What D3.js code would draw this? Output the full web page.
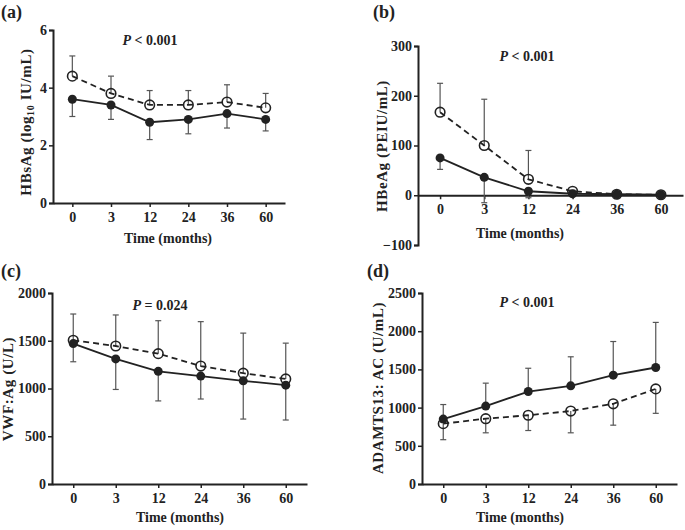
<!DOCTYPE html>
<html><head><meta charset="utf-8">
<script src="https://cdn.jsdelivr.net/npm/d3@7"></script>
<style>body{margin:0;background:#fff}svg{display:block}text{font-family:"Liberation Serif","Times New Roman",serif;font-weight:bold;fill:#222}</style>
</head><body>
<script>
const months = ["0","3","12","24","36","60"];

// (a) HBsAg
const aOpen = [4.4, 3.8, 3.4, 3.4, 3.5, 3.3];
const aOpenErr = [5.1, 4.4, 3.9, 3.9, 4.1, 3.8];
const aFilled = [3.6, 3.4, 2.8, 2.9, 3.1, 2.9];
const aFilledErr = [3.0, 2.9, 2.2, 2.4, 2.6, 2.5];
const aTicks = [0, 2, 4, 6];

// (b) HBeAg
const bOpen = [167, 100, 32, 8, 2, 1];
const bOpenErr = [225, 193, 90, 10, 3, 2];
const bFilled = [75, 36, 8, 3, 2, 1];
const bFilledErr = [52, -15, -5, 1, 1, 0];
const bTicks = [-100, 0, 100, 200, 300];

// (c) VWF:Ag
const cOpen = [1505, 1445, 1365, 1235, 1160, 1100];
const cOpenErr = [1780, 1770, 1710, 1700, 1580, 1475];
const cFilled = [1470, 1310, 1180, 1130, 1080, 1035];
const cFilledErr = [1280, 990, 870, 890, 680, 670];
const cTicks = [0, 500, 1000, 1500, 2000];

// (d) ADAMTS13:AC
const dOpen = [790, 855, 900, 955, 1050, 1245];
const dOpenErr = [580, 670, 700, 670, 770, 925];
const dFilled = [850, 1020, 1210, 1285, 1425, 1525];
const dFilledErr = [1040, 1320, 1515, 1665, 1865, 2115];
const dTicks = [0, 500, 1000, 1500, 2000, 2500];

const svg = d3.select("body").append("svg").attr("width", 685).attr("height", 530);

function panel(o) {
  const g = svg.append("g");
  const x = d3.scalePoint().domain(months).range(o.xr).padding(0.5);
  const y = d3.scaleLinear().domain(o.yd).range(o.yr);
  const x0 = y(0);
  // y axis
  const ya = g.append("g").attr("transform", `translate(${o.xr[0]},0)`)
    .call(d3.axisLeft(y).tickValues(o.ticks).tickSize(4).tickPadding(2).tickFormat(d3.format("d")));
  ya.select(".domain").attr("stroke", "#222").attr("stroke-width", 2);
  ya.selectAll(".tick line").attr("stroke", "#222").attr("stroke-width", 1.5);
  ya.selectAll("text").attr("font-size", 14).attr("font-family", null).attr("fill", "#222");
  // x axis
  const xa = g.append("g").attr("transform", `translate(0,${x0})`)
    .call(d3.axisBottom(x).tickSize(4).tickSizeOuter(0).tickPadding(o.xpad || 5));
  xa.select(".domain").attr("stroke", "#222").attr("stroke-width", 2);
  xa.selectAll(".tick line").attr("stroke", "#222").attr("stroke-width", 1.5);
  xa.selectAll("text").attr("font-size", 14).attr("font-family", null).attr("fill", "#222");
  // x title
  g.append("text").attr("x", o.xtx).attr("y", o.xty).attr("text-anchor", "middle").attr("font-size", 14).text("Time (months)");
  // y title
  const yt = g.append("text").attr("transform", `translate(${o.ytx},${o.yty}) rotate(-90)`)
    .attr("text-anchor", "middle").attr("font-size", 15).attr("letter-spacing", 0.6);
  o.ytitle(yt);
  // panel label
  g.append("text").attr("x", o.lx).attr("y", o.ly).attr("font-size", 18).text(o.label);
  // P text
  const pt = g.append("text").attr("x", o.px).attr("y", o.py).attr("text-anchor", "middle").attr("font-size", 14);
  pt.append("tspan").attr("font-style", "italic").text("P");
  pt.append("tspan").text(o.ptext);

  // error bars
  function errs(vals, ends) {
    const eb = g.append("g").attr("stroke", "#555").attr("stroke-width", 1.2);
    months.forEach((m, i) => {
      const cx = x(m);
      eb.append("line").attr("x1", cx).attr("x2", cx).attr("y1", y(vals[i])).attr("y2", y(ends[i]));
      eb.append("line").attr("x1", cx - 3).attr("x2", cx + 3).attr("y1", y(ends[i])).attr("y2", y(ends[i]));
    });
  }
  errs(o.open, o.openErr);
  errs(o.filled, o.filledErr);
  const line = d3.line().x((d, i) => x(months[i])).y(d => y(d));
  g.append("path").datum(o.open).attr("d", line).attr("fill", "none").attr("stroke", "#222")
    .attr("stroke-width", 1.8).attr("stroke-dasharray", "6,4");
  g.append("path").datum(o.filled).attr("d", line).attr("fill", "none").attr("stroke", "#222").attr("stroke-width", 1.8);
  g.selectAll(".fp").data(o.filled).enter().append("circle")
    .attr("cx", (d, i) => x(months[i])).attr("cy", d => y(d)).attr("r", 4.5).attr("fill", "#222");
  g.selectAll(".op").data(o.open).enter().append("circle")
    .attr("cx", (d, i) => x(months[i])).attr("cy", d => y(d)).attr("r", 4.8).attr("fill", "none")
    .attr("stroke", "#222").attr("stroke-width", 1.6);
}

panel({label: "(a)", lx: 1, ly: 18, xr: [53, 285], yd: [0, 6], yr: [203, 30], ticks: aTicks,
  open: aOpen, openErr: aOpenErr, filled: aFilled, filledErr: aFilledErr,
  xtx: 168, xty: 243, ytx: 31, yty: 122, px: 150, py: 45, ptext: " < 0.001",
  ytitle: t => { t.append("tspan").text("HBsAg  (log");
    t.append("tspan").attr("font-size", 10).attr("dy", 3).text("10");
    t.append("tspan").attr("dy", -3).text(" IU/mL)"); }});

panel({label: "(b)", lx: 373, ly: 18, xr: [418, 683], yd: [-100, 300], yr: [245, 46], ticks: bTicks,
  open: bOpen, openErr: bOpenErr, filled: bFilled, filledErr: bFilledErr,
  xtx: 520, xty: 238, ytx: 387, yty: 146, px: 527, py: 61, ptext: " < 0.001",
  ytitle: t => t.text("HBeAg (PEIU/mL)")});

panel({label: "(c)", lx: 1, ly: 277, xr: [52, 307], yd: [0, 2000], yr: [484, 293], ticks: cTicks,
  open: cOpen, openErr: cOpenErr, filled: cFilled, filledErr: cFilledErr,
  xtx: 180, xty: 522, ytx: 13, yty: 389, px: 160, py: 310, ptext: " = 0.024",
  ytitle: t => t.text("VWF:Ag (U/L)")});

panel({label: "(d)", lx: 367, ly: 277, xr: [422, 677], yd: [0, 2500], yr: [484, 293], ticks: dTicks,
  open: dOpen, openErr: dOpenErr, filled: dFilled, filledErr: dFilledErr,
  xtx: 520, xty: 522, ytx: 383, yty: 388, px: 527, py: 307, ptext: " < 0.001",
  ytitle: t => t.text("ADAMTS13: AC (U/mL)")});
</script>
</body></html>
